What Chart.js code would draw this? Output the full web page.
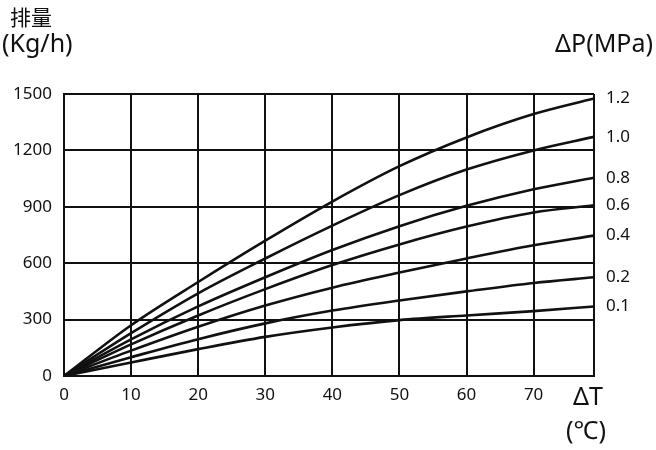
<!DOCTYPE html>
<html lang="zh">
<head>
  <meta charset="UTF-8">
  <title>排量 ΔT ΔP</title>
  <script src="https://cdn.jsdelivr.net/npm/chart.js"></script>
  <style>
    html, body { margin: 0; padding: 0; background: #fff; }
    #wrap { width: 656px; height: 450px; position: relative; }
  </style>
</head>
<body>
  <div id="wrap"><canvas id="chart" width="656" height="450"></canvas></div>

  <script>
    // temperature difference ΔT (℃)
    const deltaT = [0, 10, 20, 30, 40, 50, 60, 70, 79];
    // pressure difference labels, one curve each
    const pressures = ['1.2', '1.0', '0.8', '0.6', '0.4', '0.2', '0.1'];
    // discharge (Kg/h) per curve
    const p12 = [0, 270, 500, 720, 928, 1116, 1269, 1393, 1476];
    const p10 = [0, 228, 440, 625, 800, 962, 1098, 1200, 1272];
    const p08 = [0, 195, 370, 525, 670, 797, 905, 993, 1055];
    const p06 = [0, 168, 322, 462, 590, 700, 795, 870, 908];
    const p04 = [0, 135, 262, 375, 470, 550, 625, 695, 747];
    const p02 = [0, 100, 196, 280, 348, 402, 450, 495, 525];
    const p01 = [0, 72, 143, 208, 258, 297, 322, 345, 370];
    const yTicks = [0, 300, 600, 900, 1200, 1500];

    const series = [p12, p10, p08, p06, p04, p02, p01];
    const font = "'Noto Sans', 'Open Sans', sans-serif";
    const ink = '#111';

    const datasets = series.map((vals, i) => ({
      label: pressures[i],
      data: vals.map((v, j) => ({ x: deltaT[j], y: v })),
      borderColor: ink,
      borderWidth: 2.6,
      pointRadius: 0,
      fill: false,
      cubicInterpolationMode: 'monotone'
    }));

    const textPlugin = {
      id: 'texts',
      afterDraw(chart) {
        const ctx = chart.ctx;
        ctx.save();
        ctx.fillStyle = ink;
        ctx.textBaseline = 'middle';
        ctx.textAlign = 'left';
        // curve labels at the end of every line
        ctx.font = '17px ' + font;
        chart.data.datasets.forEach((ds, i) => {
          const pts = chart.getDatasetMeta(i).data;
          const last = pts[pts.length - 1];
          ctx.fillText(ds.label, last.x + 12, last.y);
        });
        // axis titles
        ctx.font = "21px 'Noto Sans CJK SC', sans-serif";
        ctx.fillText('排量', 10, 17);
        ctx.font = '25px ' + font;
        ctx.fillText('(Kg/h)', 2, 45);
        ctx.textAlign = 'right';
        ctx.fillText('ΔP(MPa)', 653, 45);
        ctx.textAlign = 'center';
        ctx.fillText('ΔT', 588, 398);
        ctx.fillText('(℃)', 586, 432);
        ctx.restore();
      }
    };

    new Chart(document.getElementById('chart'), {
      type: 'line',
      data: { datasets },
      plugins: [textPlugin],
      options: {
        responsive: false,
        animation: false,
        layout: { padding: { top: 94, right: 62, left: 0, bottom: 0 } },
        plugins: { legend: { display: false }, tooltip: { enabled: false } },
        scales: {
          x: {
            type: 'linear',
            min: 0,
            max: 79,
            afterBuildTicks: s => {
              s.ticks = deltaT.map(v => ({ value: v }));
            },
            afterFit: s => { s.height = 74; },
            grid: { color: ink, lineWidth: 2, drawTicks: false },
            border: { color: ink, width: 2 },
            ticks: {
              color: ink,
              padding: 9,
              font: { size: 17, family: font },
              maxRotation: 0,
              callback: v => (v % 10 === 0 ? String(v) : '')
            }
          },
          y: {
            min: 0,
            max: 1500,
            afterBuildTicks: s => {
              s.ticks = yTicks.map(v => ({ value: v }));
            },
            afterFit: s => { s.width = 64; },
            grid: { color: ink, lineWidth: 2, drawTicks: false },
            border: { color: ink, width: 2 },
            ticks: {
              color: ink,
              padding: 12,
              font: { size: 17, family: font },
              callback: v => String(v)
            }
          }
        }
      }
    });
  </script>
</body>
</html>
